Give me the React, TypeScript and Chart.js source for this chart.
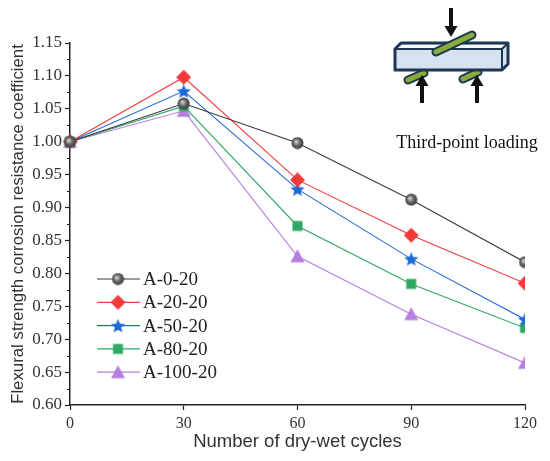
import { useEffect, useRef } from 'react'
import { Chart, registerables, type ChartConfiguration, type Plugin } from 'chart.js'

Chart.register(...registerables)

const cycles = [0, 30, 60, 90, 120]
const seriesNames = ['A-0-20', 'A-20-20', 'A-50-20', 'A-80-20', 'A-100-20']
const a0 = [1.0, 1.058, 0.998, 0.912, 0.817]
const a20 = [1.0, 1.098, 0.942, 0.858, 0.785]
const a50 = [1.0, 1.077, 0.928, 0.822, 0.73]
const a80 = [1.0, 1.054, 0.872, 0.784, 0.717]
const a100 = [1.0, 1.047, 0.826, 0.738, 0.664]
const xTicks = [0, 30, 60, 90, 120]
const yMin = 0.6
const yMax = 1.15

const serif = '"Liberation Serif", "Times New Roman", serif'
const sans = '"Liberation Sans", Arial, sans-serif'

type MarkerKind = 'sphere' | 'diamond' | 'star' | 'square' | 'triangle'

function makeMarker(kind: MarkerKind, color: string, size: number): HTMLCanvasElement {
  const c = document.createElement('canvas')
  c.width = size
  c.height = size
  const ctx = c.getContext('2d')!
  const m = size / 2
  ctx.fillStyle = color
  ctx.beginPath()
  if (kind === 'sphere') {
    const g = ctx.createRadialGradient(m - 1.5, m - 1.5, 0.5, m, m, m)
    g.addColorStop(0, '#d0d0d0')
    g.addColorStop(0.5, '#646464')
    g.addColorStop(1, '#363636')
    ctx.fillStyle = g
    ctx.arc(m, m, m - 0.5, 0, Math.PI * 2)
  } else if (kind === 'diamond') {
    ctx.moveTo(m, 0)
    ctx.lineTo(size, m)
    ctx.lineTo(m, size)
    ctx.lineTo(0, m)
    ctx.closePath()
  } else if (kind === 'square') {
    ctx.rect(1.5, 1.5, size - 3, size - 3)
  } else if (kind === 'triangle') {
    ctx.moveTo(m, 0.5)
    ctx.lineTo(size - 0.5, size - 1.5)
    ctx.lineTo(0.5, size - 1.5)
    ctx.closePath()
  } else {
    const outer = m
    const inner = m * 0.45
    for (let i = 0; i < 10; i++) {
      const r = i % 2 === 0 ? outer : inner
      const a = -Math.PI / 2 + (i * Math.PI) / 5
      const px = m + r * Math.cos(a)
      const py = m + 0.8 + r * Math.sin(a)
      if (i === 0) ctx.moveTo(px, py)
      else ctx.lineTo(px, py)
    }
    ctx.closePath()
  }
  ctx.fill()
  return c
}

const legendPlugin: Plugin<'line'> = {
  id: 'insideLegend',
  afterDraw(chart) {
    const ctx = chart.ctx
    ctx.save()
    ctx.font = `19px ${serif}`
    ctx.textBaseline = 'middle'
    ctx.fillStyle = '#222'
    chart.data.datasets.forEach((ds, i) => {
      const y = 279 + i * 23.3
      ctx.strokeStyle = ds.borderColor as string
      ctx.lineWidth = 1.2
      ctx.beginPath()
      ctx.moveTo(97, y)
      ctx.lineTo(140, y)
      ctx.stroke()
      const img = ds.pointStyle as HTMLCanvasElement
      ctx.drawImage(img, 118 - img.width / 2, y - img.height / 2)
      ctx.fillText(ds.label ?? '', 143, y + 1)
    })
    ctx.restore()
  },
}

const minorTicksPlugin: Plugin<'line'> = {
  id: 'minorTicks',
  afterDraw(chart) {
    const ctx = chart.ctx
    const y = chart.scales.y
    ctx.save()
    ctx.strokeStyle = '#222'
    ctx.lineWidth = 1
    for (let v = yMin + 0.025; v < yMax; v += 0.05) {
      const py = Math.round(y.getPixelForValue(v)) + 0.5
      ctx.beginPath()
      ctx.moveTo(chart.chartArea.left, py)
      ctx.lineTo(chart.chartArea.left - 3, py)
      ctx.stroke()
    }
    ctx.restore()
  },
}

const diagramPlugin: Plugin<'line'> = {
  id: 'loadingDiagram',
  afterDraw(chart) {
    const ctx = chart.ctx
    const navy = '#1b3752'
    const green = '#8aab3a'
    ctx.save()
    ctx.lineJoin = 'round'
    const roller = (x1: number, y1: number, x2: number, y2: number) => {
      ctx.lineCap = 'round'
      ctx.strokeStyle = navy
      ctx.lineWidth = 9
      ctx.beginPath()
      ctx.moveTo(x1, y1)
      ctx.lineTo(x2, y2)
      ctx.stroke()
      ctx.strokeStyle = green
      ctx.lineWidth = 5
      ctx.stroke()
    }
    const arrow = (x: number, yFrom: number, yTo: number) => {
      const dir = yTo > yFrom ? 1 : -1
      ctx.fillStyle = '#111'
      ctx.fillRect(x - 2, Math.min(yFrom, yTo - dir * 8), 4, Math.abs(yTo - dir * 8 - yFrom))
      ctx.beginPath()
      ctx.moveTo(x - 6.5, yTo - dir * 11)
      ctx.lineTo(x + 6.5, yTo - dir * 11)
      ctx.lineTo(x, yTo)
      ctx.closePath()
      ctx.fill()
    }
    // bottom rollers (behind beam)
    roller(408, 80, 424, 73)
    roller(463, 79, 478, 72)
    // beam
    ctx.fillStyle = '#d6e2f0'
    ctx.strokeStyle = navy
    ctx.lineWidth = 3
    ctx.beginPath()
    ctx.moveTo(395, 49)
    ctx.lineTo(401, 43)
    ctx.lineTo(508, 43)
    ctx.lineTo(508, 64)
    ctx.lineTo(502, 70)
    ctx.lineTo(395, 70)
    ctx.closePath()
    ctx.fill()
    ctx.stroke()
    ctx.fillStyle = '#f6f8fb'
    ctx.beginPath()
    ctx.moveTo(398, 48)
    ctx.lineTo(402, 45)
    ctx.lineTo(505, 45)
    ctx.lineTo(501, 48)
    ctx.closePath()
    ctx.fill()
    ctx.lineWidth = 2
    ctx.beginPath()
    ctx.moveTo(395, 49)
    ctx.lineTo(502, 49)
    ctx.lineTo(508, 43)
    ctx.moveTo(502, 49)
    ctx.lineTo(502, 70)
    ctx.stroke()
    // top roller
    roller(436, 52, 472, 35)
    arrow(451, 8, 37)
    arrow(422, 103, 75)
    arrow(477, 103, 75)
    ctx.fillStyle = '#111'
    ctx.font = `18px ${serif}`
    ctx.textAlign = 'center'
    ctx.textBaseline = 'middle'
    ctx.fillText('Third-point loading', 467, 143)
    ctx.restore()
  },
}

export default function App() {
  const canvasRef = useRef<HTMLCanvasElement | null>(null)
  const chartRef = useRef<Chart<'line'> | null>(null)

  useEffect(() => {
    document.body.style.margin = '0'
    const canvas = canvasRef.current
    if (!canvas) return

    const series = [a0, a20, a50, a80, a100]
    const colors = ['#3a3a3a', '#f23a3a', '#1f6ad8', '#2ea862', '#b67ee0']
    const markers: MarkerKind[] = ['sphere', 'diamond', 'star', 'square', 'triangle']
    const sizes = [13, 15, 15, 13, 15]

    const config: ChartConfiguration<'line'> = {
      type: 'line',
      data: {
        datasets: series.map((values, i) => ({
          label: seriesNames[i],
          data: values.map((v, j) => ({ x: cycles[j], y: v })),
          borderColor: colors[i],
          backgroundColor: colors[i],
          borderWidth: 1.1,
          pointStyle: makeMarker(markers[i], colors[i], sizes[i]),
          pointRadius: 6,
          tension: 0,
          clip: { left: 12, top: 12, right: 0, bottom: 12 },
        })),
      },
      options: {
        responsive: false,
        animation: false,
        layout: { padding: { top: 43, right: 25, left: 0, bottom: 0 } },
        plugins: {
          legend: { display: false },
          tooltip: { enabled: false },
        },
        scales: {
          x: {
            type: 'linear',
            min: 0,
            max: 120,
            afterFit: (scale) => {
              scale.height = 56
            },
            afterBuildTicks: (scale) => {
              scale.ticks = xTicks.map((v) => ({ value: v }))
            },
            grid: { drawOnChartArea: false, tickLength: 5, color: '#222', tickWidth: 1.2 },
            border: { color: '#222', width: 1.5 },
            ticks: {
              color: '#333',
              padding: 4,
              font: { family: serif, size: 16 },
            },
            title: {
              display: true,
              text: 'Number of dry-wet cycles',
              color: '#333',
              padding: { top: 0, bottom: 8 },
              font: { family: sans, size: 18.5 },
            },
          },
          y: {
            min: yMin,
            max: yMax,
            afterFit: (scale) => {
              scale.width = 70
            },
            grid: { drawOnChartArea: false, tickLength: 5, color: '#222', tickWidth: 1.2 },
            border: { color: '#222', width: 1.5 },
            ticks: {
              stepSize: 0.05,
              color: '#333',
              padding: 3,
              font: { family: serif, size: 17 },
              callback: (v) => Number(v).toFixed(2),
            },
            title: {
              display: true,
              text: 'Flexural strength corrosion resistance coefficient',
              color: '#333',
              padding: { top: 8, bottom: 0 },
              font: { family: sans, size: 16.8 },
            },
          },
        },
      },
      plugins: [minorTicksPlugin, legendPlugin, diagramPlugin],
    }

    chartRef.current = new Chart(canvas, config)
    return () => {
      chartRef.current?.destroy()
      chartRef.current = null
    }
  }, [])

  return (
    <div style={{ width: 550, height: 461, background: '#fff' }}>
      <canvas ref={canvasRef} width={550} height={461} style={{ width: 550, height: 461 }} />
    </div>
  )
}
